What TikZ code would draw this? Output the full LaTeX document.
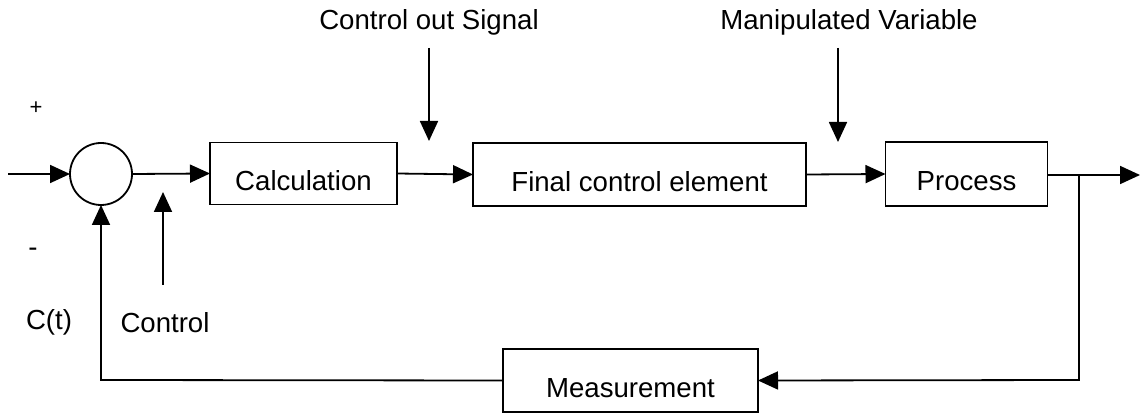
\documentclass[tikz,border=0pt]{standalone}
\usepackage{fontspec}
\setmainfont{Liberation Sans}
\usetikzlibrary{arrows.meta}
\newcommand{\lowtxt}[1]{\raisebox{-3.8pt}[\height][\depth]{#1}}
\begin{document}
\begin{tikzpicture}[x=0.5pt,y=-0.5pt,
  line width=0.9pt,
  every node/.style={font=\fontsize{13.8}{16}\selectfont},
  blk/.style={draw,rectangle,inner sep=0pt,outer sep=0pt},
  arr/.style={-{Triangle[length=10pt,width=9pt]}},
  lbl/.style={inner sep=0pt}]
\useasboundingbox (0,0) rectangle (1146,416);
% nodes
\node[draw,circle,minimum size=31pt,inner sep=0pt,outer sep=0pt] (sum) at (101,174) {};
\node[blk,minimum width=93.5pt,minimum height=31pt] (calc) at (303.5,173.5) {\lowtxt{Calculation}};
\node[blk,minimum width=166.5pt,minimum height=31.5pt] (fce) at (639.5,174.5) {\lowtxt{Final control element}};
\node[blk,minimum width=81pt,minimum height=32pt] (proc) at (966.5,174) {\lowtxt{Process}};
\node[blk,minimum width=127.5pt,minimum height=31.5pt] (meas) at (630.5,380.5) {\lowtxt{Measurement}};
% labels
\node[lbl] (plus) at (36,108) {\fontsize{11}{13}\selectfont +};
\node[lbl] (minus) at (33,252) {-};
\node[lbl] (ct) at (49,322) {C(t)};
\node[lbl] (ctrl) at (165,323) {Control};
\node[lbl] (cos) at (429,22) {Control out Signal};
\node[lbl] (mv) at (849,22) {Manipulated Variable};
% coordinates
\coordinate (in) at (8,174);
\coordinate (out) at (1140,175);
\coordinate (br) at (1079,175);
\coordinate (brd) at (1079,380);
\coordinate (fbl) at (101,380);
\coordinate (ctl0) at (163,285);
\coordinate (ctl1) at (163,192);
\coordinate (cos0) at (429,48);
\coordinate (cos1) at (429,141);
\coordinate (mv0) at (838,48);
\coordinate (mv1) at (838,142);
% connectors
\draw[arr] (in) -- (sum.west);
\draw[arr] (sum.east) -- (calc.west);
\draw[arr] (calc.east) -- (fce.west);
\draw[arr] (fce.east) -- (proc.west);
\draw[arr] (proc.east |- out) -- (out);
\draw[arr] (br) -- (brd) -- (meas.east);
\draw[arr] (meas.west) -- (fbl) -- (sum.south);
\draw[arr] (ctl0) -- (ctl1);
\draw[arr] (cos0) -- (cos1);
\draw[arr] (mv0) -- (mv1);
\end{tikzpicture}
\end{document}
